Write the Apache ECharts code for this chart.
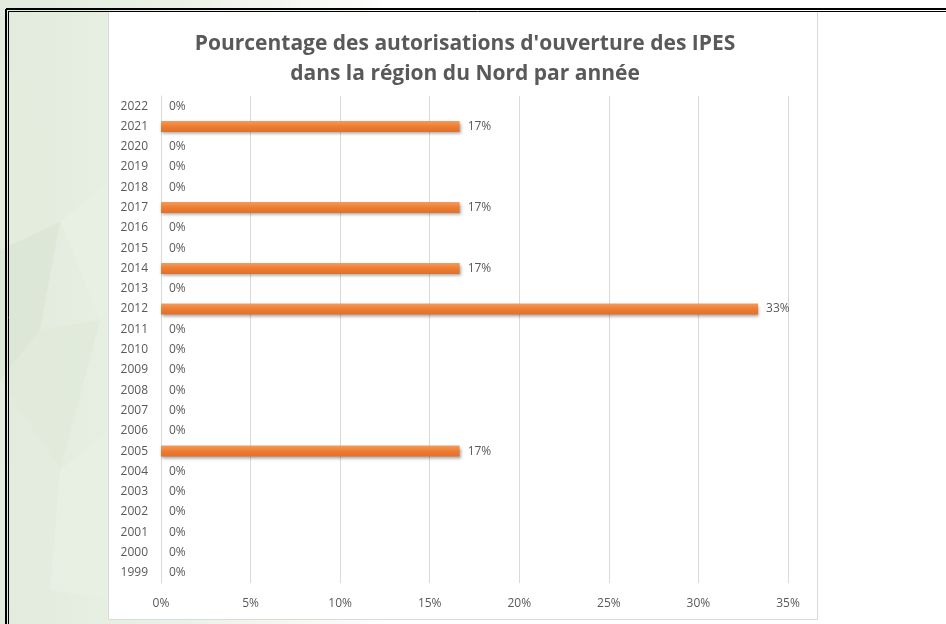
<!DOCTYPE html>
<html>
<head>
<meta charset="utf-8">
<script src="https://cdn.jsdelivr.net/npm/echarts@6/dist/echarts.min.js"></script>
<style>
  html, body { margin: 0; padding: 0; background: #ffffff; }
  #chart { width: 946px; height: 624px; }
</style>
</head>
<body>
<div id="chart"></div>
<script>
// Years on the category axis (bottom to top)
const years = ['1999','2000','2001','2002','2003','2004','2005','2006','2007','2008','2009','2010',
               '2011','2012','2013','2014','2015','2016','2017','2018','2019','2020','2021','2022'];
// Share of opening authorisations per year (percent)
const shares = [0,0,0,0,0,0,16.67,0,0,0,0,0,
                0,33.33,0,16.67,0,0,16.67,0,0,0,16.67,0];
// Value axis ticks
const xTicks = [0,5,10,15,20,25,30,35];

const titleLines = ["Pourcentage des autorisations d'ouverture des IPES", "dans la région du Nord par année"];

const chart = echarts.init(document.getElementById('chart'), null, { renderer: 'canvas' });

const FONT = "'Open Sans', 'DejaVu Sans', sans-serif";
const TEXT = '#595959';

// Soft faceted backdrop on the left side
const facets = [
  { pts: [[0,60],[40,100],[60,225],[0,250]], c: '#E3ECDD' },
  { pts: [[0,250],[60,222],[40,330],[0,380]], c: '#DBE6D4' },
  { pts: [[60,222],[110,180],[110,310],[100,320]], c: '#E8EFE4' },
  { pts: [[0,380],[40,330],[100,320],[60,470]], c: '#E0EADA' },
  { pts: [[0,470],[60,470],[50,590],[0,610]], c: '#E3ECDE' },
  { pts: [[60,470],[110,430],[110,600],[50,590]], c: '#E8EFE4' }
];

const graphics = [
  { type: 'rect', z: -10, silent: true, shape: { x: 0, y: 0, width: 946, height: 624 },
    style: { fill: new echarts.graphic.LinearGradient(0, 0, 1, 0, [
      { offset: 0, color: '#E2EBDD' }, { offset: 0.12, color: '#E7EEE2' },
      { offset: 0.3, color: '#F4F7F1' }, { offset: 0.42, color: '#FFFFFF' }, { offset: 1, color: '#FFFFFF' }]) } }
];
facets.forEach(f => graphics.push({ type: 'polygon', z: -9, silent: true, shape: { points: f.pts }, style: { fill: f.c, opacity: 0.8 } }));
graphics.push(
  // white chart card
  { type: 'rect', z: -5, silent: true, shape: { x: 108.5, y: 11.5, width: 709, height: 608 },
    style: { fill: '#FFFFFF', stroke: '#D9D9D9', lineWidth: 1 } },
  // double frame lines
  { type: 'line', z: 5, silent: true, shape: { x1: 6, y1: 9, x2: 946, y2: 9 }, style: { stroke: '#000', lineWidth: 2 } },
  { type: 'line', z: 5, silent: true, shape: { x1: 9, y1: 11.5, x2: 946, y2: 11.5 }, style: { stroke: '#000', lineWidth: 1 } },
  { type: 'line', z: 5, silent: true, shape: { x1: 6, y1: 9, x2: 6, y2: 624 }, style: { stroke: '#000', lineWidth: 2 } },
  { type: 'line', z: 5, silent: true, shape: { x1: 8.5, y1: 11, x2: 8.5, y2: 624 }, style: { stroke: '#000', lineWidth: 1 } },
  // title
  { type: 'text', z: 10, silent: true, x: 465, y: 29,
    style: { text: titleLines.join('\n'), fill: TEXT, font: "bold 21px " + FONT,
             textAlign: 'center', lineHeight: 30 } }
);

chart.setOption({
  animation: false,
  backgroundColor: 'transparent',
  graphic: graphics,
  grid: { left: 161, right: 158, top: 96, bottom: 41, containLabel: false },
  xAxis: {
    type: 'value', min: 0, max: 35, interval: 5,
    axisLine: { show: false }, axisTick: { show: false },
    splitLine: { show: true, lineStyle: { color: '#D9D9D9', width: 1 } },
    axisLabel: { color: TEXT, fontSize: 12, fontFamily: FONT, margin: 15,
                 formatter: v => xTicks.includes(v) ? v + '%' : '' }
  },
  yAxis: {
    type: 'category', data: years,
    axisLine: { show: true, lineStyle: { color: '#D9D9D9', width: 1 } },
    axisTick: { show: false },
    axisLabel: { color: TEXT, fontSize: 12, fontFamily: FONT, margin: 13 }
  },
  series: [{
    type: 'bar', data: shares, barWidth: 11,
    itemStyle: {
      color: new echarts.graphic.LinearGradient(0, 0, 0, 1, [
        { offset: 0, color: '#F39A5C' }, { offset: 0.5, color: '#EE7D31' }, { offset: 1, color: '#E0702A' }]),
      shadowColor: 'rgba(0,0,0,0.35)', shadowBlur: 3, shadowOffsetY: 2, shadowOffsetX: 1
    },
    label: { show: true, position: 'right', distance: 8, color: TEXT, fontSize: 12, fontFamily: FONT,
             formatter: p => Math.round(p.value) + '%' }
  }]
});
</script>
</body>
</html>
